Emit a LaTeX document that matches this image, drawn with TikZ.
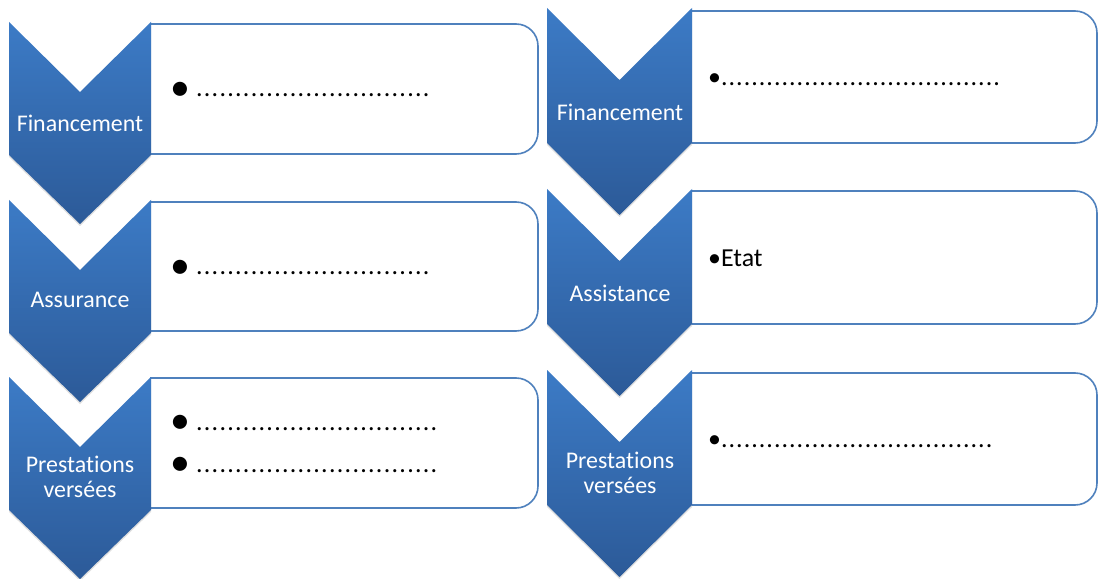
\documentclass[tikz,border=0pt]{standalone}
\usepackage{fontspec}
\setmainfont{Carlito}[Ligatures=NoCommon]
\newfontfamily\pointille{Carlito}[LetterSpace=4]
\newfontfamily\pointillelarge{Carlito}[LetterSpace=5]
\usetikzlibrary{shadows}

\definecolor{bleuhaut}{RGB}{60,123,198}
\definecolor{bleubas}{RGB}{44,90,152}
\definecolor{bleutrait}{RGB}{79,129,189}

\newcommand{\grossepuce}{{\fontsize{40}{40}\selectfont\raisebox{-0.1em}{\textbullet}}}

\begin{document}
\begin{tikzpicture}[x=1bp, y=-1bp,
		chevron/.style={top color=bleuhaut, bottom color=bleubas, draw=none,
			drop shadow={shadow xshift=0bp, shadow yshift=-2bp, opacity=0.25}},
		cadre/.style={draw=bleutrait, line width=1.6bp, fill=white, rounded corners=22bp},
		etiquette/.style={text=white, font=\fontsize{24}{25}\selectfont, align=center, anchor=base, inner sep=0pt},
		texte/.style={font=\fontsize{26}{30}\selectfont, anchor=base west, inner sep=0pt}]

		\fill[white] (0,0) rectangle (1100,579);
		\useasboundingbox (0,0) rectangle (1100,579);

		% colonne de gauche
		\filldraw[cadre] (150,24) -- (538,24) -- (538,154) -- (150,154);
		\filldraw[cadre] (150,202) -- (538,202) -- (538,331) -- (150,331);
		\filldraw[cadre] (150,378) -- (538,378) -- (538,508) -- (150,508);

		\path[chevron] (9,22) -- ++(71,70) -- ++(71,-70) -- ++(0,133) -- ++(-71,69) -- ++(-71,-69) -- cycle;
		\path[chevron] (9,200) -- ++(71,70) -- ++(71,-70) -- ++(0,133) -- ++(-71,69) -- ++(-71,-69) -- cycle;
		\path[chevron] (9,377) -- ++(71,70) -- ++(71,-70) -- ++(0,133) -- ++(-71,69) -- ++(-71,-69) -- cycle;

		\node[etiquette] (financement1) at (80,132) {Financement};
		\node[etiquette] (assurance) at (80,308) {Assurance};
		\node[etiquette] (prestations1) at (80,497) {Prestations\\vers\'ees};

		\node[texte] (texte1) at (170,97) {\grossepuce\hspace{6bp}\pointillelarge ..............................};
		\node[texte] (texte2) at (170,275) {\grossepuce\hspace{6bp}\pointillelarge ..............................};
		\node[texte] (texte3) at (170,430) {\grossepuce\hspace{6bp}\pointillelarge ...............................};
		\node[texte] (texte4) at (170,472) {\grossepuce\hspace{6bp}\pointillelarge ...............................};

		% colonne de droite
		\filldraw[cadre] (692,11) -- (1097,11) -- (1097,143) -- (692,143);
		\filldraw[cadre] (692,191) -- (1097,191) -- (1097,324) -- (692,324);
		\filldraw[cadre] (692,373) -- (1097,373) -- (1097,505) -- (692,505);

		\path[chevron] (547,8) -- ++(72.5,72) -- ++(72.5,-72) -- ++(0,135) -- ++(-72.5,72) -- ++(-72.5,-72) -- cycle;
		\path[chevron] (547,189) -- ++(72.5,72) -- ++(72.5,-72) -- ++(0,135) -- ++(-72.5,72) -- ++(-72.5,-72) -- cycle;
		\path[chevron] (547,370) -- ++(72.5,72) -- ++(72.5,-72) -- ++(0,135) -- ++(-72.5,72) -- ++(-72.5,-72) -- cycle;

		\node[etiquette] (financement2) at (620,121) {Financement};
		\node[etiquette] (assistance) at (620,302) {Assistance};
		\node[etiquette] (prestations2) at (620,493) {Prestations\\vers\'ees};

		\node[texte] (texte5) at (708,86) {\textbullet\pointille .....................................};
		\node[texte] (texte6) at (708,267) {\textbullet Etat};
		\node[texte] (texte7) at (708,447) {\textbullet\pointille ....................................};

	\end{tikzpicture}
\end{document}
